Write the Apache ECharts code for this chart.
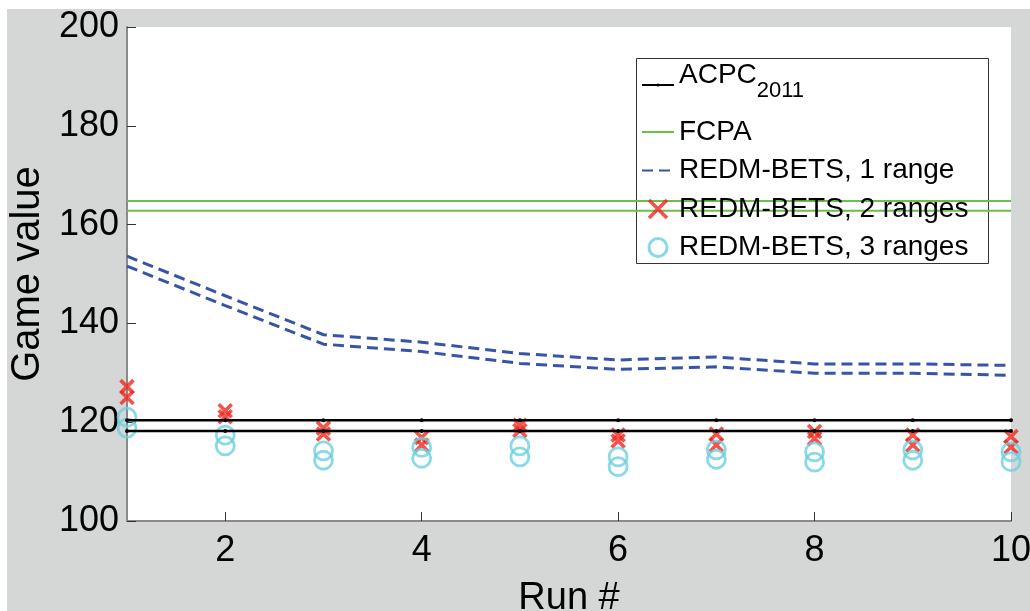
<!DOCTYPE html>
<html>
<head>
<meta charset="utf-8">
<script src="https://cdn.jsdelivr.net/npm/echarts@6/dist/echarts.min.js"></script>
<style>
  html, body { margin: 0; padding: 0; background: #ffffff; }
  #chart { position: absolute; left: 7px; top: 9px; width: 1023px; height: 602px; background: #d5d6d6; }
</style>
</head>
<body>
<div id="chart"></div>
<script>
// Run numbers on the x axis and the labelled ticks
const runs = [1, 2, 3, 4, 5, 6, 7, 8, 9, 10];
const xTickValues = [2, 4, 6, 8, 10];

// Reference strategies: upper and lower bound of each game value
const acpcHigh = [120.4, 120.4, 120.4, 120.4, 120.4, 120.4, 120.4, 120.4, 120.4, 120.4];
const acpcLow  = [118.2, 118.2, 118.2, 118.2, 118.2, 118.2, 118.2, 118.2, 118.2, 118.2];
const fcpaHigh = [164.8, 164.8, 164.8, 164.8, 164.8, 164.8, 164.8, 164.8, 164.8, 164.8];
const fcpaLow  = [162.8, 162.8, 162.8, 162.8, 162.8, 162.8, 162.8, 162.8, 162.8, 162.8];

// REDM-BETS with 1 range
const oneRangeHigh = [153.6, 145.6, 137.7, 136.2, 133.9, 132.6, 133.2, 131.8, 131.8, 131.5];
const oneRangeLow  = [151.6, 143.6, 135.8, 134.3, 131.9, 130.7, 131.2, 129.9, 129.9, 129.5];

// REDM-BETS with 2 ranges
const twoRangesHigh = [127.2, 122.3, 118.8, 116.9, 119.4, 117.4, 117.6, 118.1, 117.4, 117.1];
const twoRangesLow  = [125.0, 121.1, 117.6, 115.4, 118.3, 116.2, 115.4, 116.7, 115.4, 115.0];

// REDM-BETS with 3 ranges
const threeRangesHigh = [121.0, 117.4, 114.2, 114.9, 115.2, 113.0, 114.4, 114.0, 114.4, 114.0];
const threeRangesLow  = [118.8, 115.2, 112.3, 112.7, 113.0, 111.0, 112.5, 111.9, 112.3, 112.0];

const pairs = vals => runs.map((r, i) => [r, vals[i]]);

const FONT = '"Liberation Sans", Arial, Helvetica, sans-serif';
const C_ACPC = '#000000';
const C_FCPA = '#6cc04a';
const C_ONE = '#3755a8';
const C_TWO = '#f0281e';
const C_THREE = '#6ccfe0';
const CROSS = 'path://M0,0L10,10M10,0L0,10';

const N_ACPC = 'ACPC 2011';
const N_FCPA = 'FCPA';
const N_ONE = 'REDM-BETS, 1 range';
const N_TWO = 'REDM-BETS, 2 ranges';
const N_THREE = 'REDM-BETS, 3 ranges';

function acpcSeries(vals) {
  return {
    name: N_ACPC, type: 'line', data: pairs(vals),
    symbol: 'circle', symbolSize: 4, showSymbol: true,
    lineStyle: { color: C_ACPC, width: 2.5 },
    itemStyle: { color: C_ACPC },
    animation: false, silent: true
  };
}
function fcpaSeries(vals) {
  return {
    name: N_FCPA, type: 'line', data: pairs(vals), symbol: 'none',
    lineStyle: { color: C_FCPA, width: 2 },
    itemStyle: { color: C_FCPA },
    animation: false, silent: true
  };
}
function oneRangeSeries(vals) {
  return {
    name: N_ONE, type: 'line', data: pairs(vals), symbol: 'none',
    lineStyle: { color: C_ONE, width: 3, type: [11, 6] },
    itemStyle: { color: C_ONE },
    animation: false, silent: true
  };
}
function twoRangesSeries(vals) {
  return {
    name: N_TWO, type: 'scatter', data: pairs(vals),
    symbol: CROSS, symbolSize: 13, clip: false,
    itemStyle: { color: 'rgba(0,0,0,0)', borderColor: C_TWO, borderWidth: 3.6 },
    animation: false, silent: true
  };
}
function threeRangesSeries(vals) {
  return {
    name: N_THREE, type: 'scatter', data: pairs(vals),
    symbol: 'circle', symbolSize: 18, clip: false,
    itemStyle: { color: 'rgba(0,0,0,0)', borderColor: C_THREE, borderWidth: 2.8 },
    animation: false, silent: true
  };
}

const chart = echarts.init(document.getElementById('chart'), null, { renderer: 'canvas' });

chart.setOption({
  backgroundColor: 'transparent',
  animation: false,
  textStyle: { fontFamily: FONT },
  grid: {
    left: 120, top: 18, right: 19, bottom: 90,
    containLabel: false, outerBoundsMode: 'none',
    show: true, backgroundColor: '#ffffff', borderWidth: 0
  },
  xAxis: {
    type: 'value', min: 1, max: 10,
    name: 'Run #', nameLocation: 'middle', nameGap: 59,
    nameTextStyle: { fontSize: 38, color: '#000', fontFamily: FONT },
    axisLine: { show: true, lineStyle: { color: '#8a8a8a', width: 2 } },
    axisTick: { show: true, inside: true, length: 9, customValues: xTickValues,
                lineStyle: { color: '#333', width: 1 } },
    axisLabel: { customValues: xTickValues, fontSize: 36, color: '#000', margin: 12, fontFamily: FONT },
    splitLine: { show: false }
  },
  yAxis: {
    type: 'value', min: 100, max: 200, interval: 20,
    name: 'Game value', nameLocation: 'middle', nameGap: 62,
    nameTextStyle: { fontSize: 40, color: '#000', fontFamily: FONT },
    axisLine: { show: true, lineStyle: { color: '#8a8a8a', width: 2 } },
    axisTick: { show: true, inside: true, length: 9, lineStyle: { color: '#333', width: 1 } },
    axisLabel: { fontSize: 36, color: '#000', margin: 8, fontFamily: FONT },
    splitLine: { show: false }
  },
  graphic: [{
    type: 'rect', z: 3,
    shape: { x: 629.5, y: 49.5, width: 352, height: 205 },
    style: { fill: '#ffffff', stroke: '#333333', lineWidth: 1 }
  }],
  legend: [
    {
      data: [N_ACPC],
      orient: 'vertical', left: 634, top: 52, padding: 0, z: 5,
      itemWidth: 32, itemHeight: 4, selectedMode: false,
      formatter: () => '{a|ACPC}{s|2011}',
      textStyle: {
        color: '#000', fontFamily: FONT, fontSize: 28,
        rich: {
          a: { fontSize: 28, color: '#000', fontFamily: FONT, padding: [0, 0, 20, 0] },
          s: { fontSize: 22, color: '#000', fontFamily: FONT, padding: [12, 0, 0, 0] }
        }
      }
    },
    {
      data: [
        { name: N_FCPA, itemStyle: { opacity: 0 } },
        { name: N_ONE, itemStyle: { opacity: 0 } },
        { name: N_TWO, itemStyle: { borderWidth: 3.6 } },
        { name: N_THREE, itemStyle: { borderWidth: 3 } }
      ],
      orient: 'vertical', left: 634, top: 109, padding: 0, z: 5,
      itemWidth: 32, itemHeight: 18, itemGap: 10.5, selectedMode: false,
      textStyle: { color: '#000', fontFamily: FONT, fontSize: 28, lineHeight: 28 }
    }
  ],
  series: [
    acpcSeries(acpcHigh),
    acpcSeries(acpcLow),
    fcpaSeries(fcpaHigh),
    fcpaSeries(fcpaLow),
    oneRangeSeries(oneRangeHigh),
    oneRangeSeries(oneRangeLow),
    twoRangesSeries(twoRangesHigh),
    twoRangesSeries(twoRangesLow),
    threeRangesSeries(threeRangesHigh),
    threeRangesSeries(threeRangesLow)
  ]
});
</script>
</body>
</html>
